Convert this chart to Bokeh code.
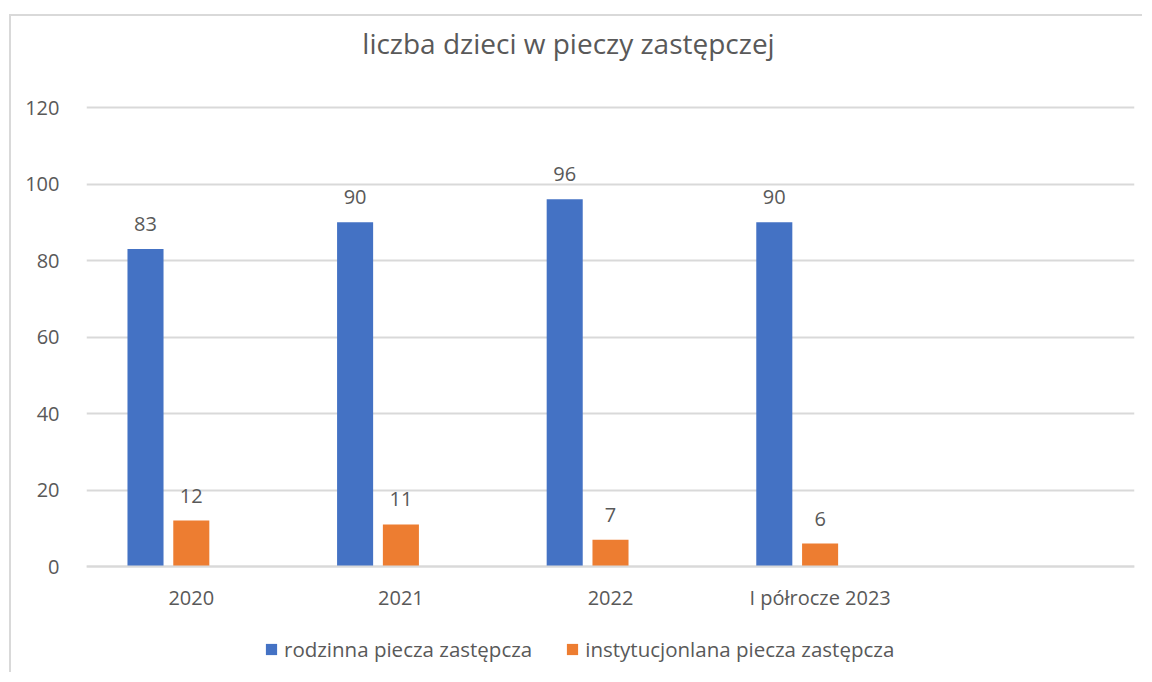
from bokeh.plotting import figure
from bokeh.models import (FactorRange, Range1d, ColumnDataSource, Legend, LegendItem,
                          FixedTicker, CategoricalAxis, Label)
from bokeh.transform import dodge
from bokeh.core.properties import value
from bokeh.embed import file_html
from bokeh.resources import INLINE

categories = ["2020", "2021", "2022", "I półrocze 2023", " "]
rodzinna = [83, 90, 96, 90, None]
instytucjonalna = [12, 11, 7, 6, None]
series_names = ["rodzinna piecza zastępcza", "instytucjonlana piecza zastępcza"]
y_ticks = [0, 20, 40, 60, 80, 100, 120]
title_text = "liczba dzieci w pieczy zastępczej"

FONT = "Open Sans"
GRAY = "#595959"
GRID = "#d9d9d9"
BLUE = "#4472C4"
ORANGE = "#ED7D31"

cats4 = categories[:4]
src = ColumnDataSource(dict(
    cat=cats4,
    r=rodzinna[:4],
    i=instytucjonalna[:4],
    rl=[str(v) for v in rodzinna[:4]],
    il=[str(v) for v in instytucjonalna[:4]],
))

# canvas 658 px tall; y=120 at 91px from canvas top, y=0 at 550px
px_per_unit = 459 / 120.0
y_bottom = -(658 - 550) / px_per_unit
y_top = 120 + 91 / px_per_unit

p = figure(
    x_range=FactorRange(factors=categories, range_padding=0),
    y_range=Range1d(y_bottom, y_top),
    width=1133, height=658,
    output_backend="svg", toolbar_location=None,
    x_axis_location=None,
    min_border_left=75, min_border_right=10, min_border_top=0, min_border_bottom=0,
)
p.margin = (16, 0, 0, 11)
p.styles = {"box-shadow": "-2px -2px 0 0 #d9d9d9"}
p.outline_line_color = None
p.background_fill_color = "white"
p.border_fill_color = "white"

bw = 0.172
off = -0.2185
b1 = p.vbar(x=dodge("cat", off, range=p.x_range), top="r", width=bw, source=src,
            fill_color=BLUE, line_color=None)
b2 = p.vbar(x=dodge("cat", 0.0, range=p.x_range), top="i", width=bw, source=src,
            fill_color=ORANGE, line_color=None)

p.text(x=dodge("cat", off, range=p.x_range), y="r", text="rl", source=src,
       text_font=value(FONT), text_font_size="20px", text_color=GRAY,
       text_align="center", text_baseline="middle", y_offset=-25)
p.text(x=dodge("cat", 0.0, range=p.x_range), y="i", text="il", source=src,
       text_font=value(FONT), text_font_size="20px", text_color=GRAY,
       text_align="center", text_baseline="middle", y_offset=-25)

# y axis
p.yaxis.ticker = FixedTicker(ticks=y_ticks)
p.yaxis.axis_line_color = None
p.yaxis.major_tick_line_color = None
p.yaxis.minor_tick_line_color = None
p.yaxis.major_label_standoff = 21
p.yaxis.major_label_text_font = FONT
p.yaxis.major_label_text_font_size = "20px"
p.yaxis.major_label_text_color = GRAY

for g in p.grid:
    if g.dimension == 0:
        g.visible = False
    else:
        g.ticker = FixedTicker(ticks=y_ticks)
        g.grid_line_color = GRID
        g.grid_line_width = 2

# x axis fixed at y = 0 inside the frame
xaxis = CategoricalAxis(fixed_location=0)
xaxis.axis_line_color = GRID
xaxis.axis_line_width = 2
xaxis.major_tick_line_color = None
xaxis.minor_tick_line_color = None
xaxis.major_label_standoff = 11
xaxis.major_label_text_font = FONT
xaxis.major_label_text_font_size = "20px"
xaxis.major_label_text_color = GRAY
p.add_layout(xaxis, "below")

# title inside the (extended) frame
p.add_layout(Label(x=2.2996, y=120 + 65 / px_per_unit, text=title_text,
                   text_font=FONT, text_font_size="28px", text_color=GRAY,
                   text_align="center", text_baseline="middle"))

legend = Legend(items=[LegendItem(label=series_names[0], renderers=[b1]),
                       LegendItem(label=series_names[1], renderers=[b2])],
                orientation="horizontal", location=(178, 11),
                glyph_width=14, glyph_height=14, label_standoff=6, spacing=33,
                padding=0, margin=0, border_line_color=None, background_fill_alpha=0,
                label_text_font=FONT, label_text_font_size="20.5px", label_text_color=GRAY,
                label_height=20)
p.add_layout(legend)

open("out.html", "w").write(file_html(p, INLINE))
